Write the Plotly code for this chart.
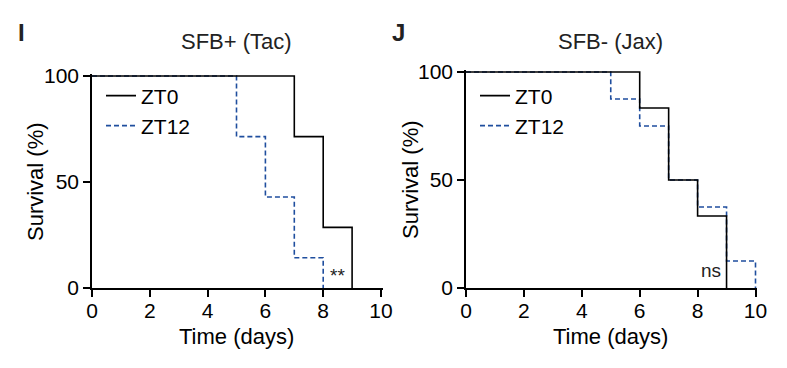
import plotly.graph_objects as go

# page body has an 8px margin: figure is drawn at (8, 8)
OFF = 8
W, H = 787 - 2 * OFF, 368 - 2 * OFF

# Data
tac_zt0_days = [0, 7, 8, 9]
tac_zt0_surv = [100, 71.4, 28.6, 0]
tac_zt12_days = [0, 5, 6, 7, 8]
tac_zt12_surv = [100, 71.4, 42.9, 14.3, 0]

jax_zt0_days = [0, 6, 7, 8, 9]
jax_zt0_surv = [100, 83.3, 50, 33.3, 0]
jax_zt12_days = [0, 5, 6, 7, 8, 9, 10]
jax_zt12_surv = [100, 87.5, 75, 50, 37.5, 12.5, 0]

x_ticks = [0, 2, 4, 6, 8, 10]
y_ticks = [0, 50, 100]
titles = ["SFB+ (Tac)", "SFB- (Jax)"]
panel_labels = ["I", "J"]
sig_labels = ["**", "ns"]

BLUE = "#1f4e9e"
FONT = "Liberation Sans, Arial, sans-serif"
FS = 21


def px(sx):
    return (sx - OFF) / W


def py(sy):
    return (H - (sy - OFF)) / H


# screen geometry (x0 pixel, x10 pixel, y100 pixel, y0 pixel)
panels = [(92, 381, 76, 288), (466, 755.5, 72, 288)]
XMAX, YMAX = 10.06, 101

fig = go.Figure()

series = [
    (tac_zt0_days, tac_zt0_surv, tac_zt12_days, tac_zt12_surv),
    (jax_zt0_days, jax_zt0_surv, jax_zt12_days, jax_zt12_surv),
]

for i, (d0, s0, d12, s12) in enumerate(series):
    xa = "x" if i == 0 else "x2"
    ya = "y" if i == 0 else "y2"
    lg0 = "legend" if i == 0 else "legend3"
    lg12 = "legend2" if i == 0 else "legend4"
    fig.add_trace(go.Scatter(x=d12, y=s12, mode="lines", line_shape="hv",
                             line=dict(color=BLUE, width=1.6, dash="5px,3px"),
                             name="ZT12", xaxis=xa, yaxis=ya, legend=lg12))
    fig.add_trace(go.Scatter(x=d0, y=s0, mode="lines", line_shape="hv",
                             line=dict(color="black", width=1.6),
                             name="ZT0", xaxis=xa, yaxis=ya, legend=lg0))

layout = dict(template="none", width=W, height=H,
              margin=dict(l=0, r=0, t=0, b=0, pad=0, autoexpand=False),
              paper_bgcolor="white", plot_bgcolor="white",
              font=dict(family=FONT, size=FS, color="black"),
              showlegend=True)

annotations = []
for i, (px0, px10, py100, py0) in enumerate(panels):
    sx = (px10 - px0) / 10.0
    sy = (py0 - py100) / 100.0
    xr = px0 + XMAX * sx
    yt = py0 - YMAX * sy
    dom_x = [px(px0), px(xr)]
    dom_y = [py(py0), py(yt)]
    sfx = "" if i == 0 else "2"
    ax_common = dict(showline=True, linecolor="black", linewidth=1.5,
                     ticks="outside", ticklen=7, tickwidth=1.5, tickcolor="black",
                     showgrid=False, zeroline=False, automargin=False,
                     tickfont=dict(size=FS, family=FONT, color="black"))
    layout["xaxis" + sfx] = dict(domain=dom_x, range=[0, XMAX], tickvals=x_ticks,
                                 anchor="y" + sfx, ticklabelstandoff=-4, **ax_common)
    layout["yaxis" + sfx] = dict(domain=dom_y, range=[0, YMAX], tickvals=y_ticks,
                                 anchor="x" + sfx, **ax_common)
    # legends: one entry per legend so rows can be placed exactly
    names = ["legend", "legend2"] if i == 0 else ["legend3", "legend4"]
    for name, row_y in zip(names, [96, 126]):
        layout[name] = dict(
            x=px(px0 + 9), y=py(row_y), xanchor="left", yanchor="middle",
            bgcolor="rgba(0,0,0,0)", font=dict(size=FS, family=FONT, color="black"),
            itemwidth=30)
    cx = (px0 + px10) / 2
    annotations.append(dict(text=titles[i], x=px(cx), y=py(41),
                            xref="paper", yref="paper", showarrow=False,
                            font=dict(size=22, color="#222222"),
                            xanchor="center", yanchor="middle"))
    annotations.append(dict(text="Time (days)", x=px(cx), y=py(336),
                            xref="paper", yref="paper", showarrow=False,
                            font=dict(size=22), xanchor="center", yanchor="middle"))
    annotations.append(dict(text="Survival (%)", x=px(px0 - 56),
                            y=py((py0 + py100) / 2),
                            xref="paper", yref="paper", showarrow=False, textangle=-90,
                            font=dict(size=22), xanchor="center", yanchor="middle"))
    annotations.append(dict(text="<b>" + panel_labels[i] + "</b>",
                            x=px(21 if i == 0 else 398), y=py(32),
                            xref="paper", yref="paper", showarrow=False,
                            font=dict(size=24, color="#222222"),
                            xanchor="center", yanchor="middle"))

annotations.append(dict(text=sig_labels[0], x=8.5, y=6, xref="x", yref="y",
                        showarrow=False, font=dict(size=19, color="#222222"),
                        xanchor="center", yanchor="middle"))
annotations.append(dict(text=sig_labels[1], x=8.45, y=8, xref="x2", yref="y2",
                        showarrow=False, font=dict(size=19, color="#222222"),
                        xanchor="center", yanchor="middle"))
layout["annotations"] = annotations

fig.update_layout(**layout)
fig.write_html("out.html")
